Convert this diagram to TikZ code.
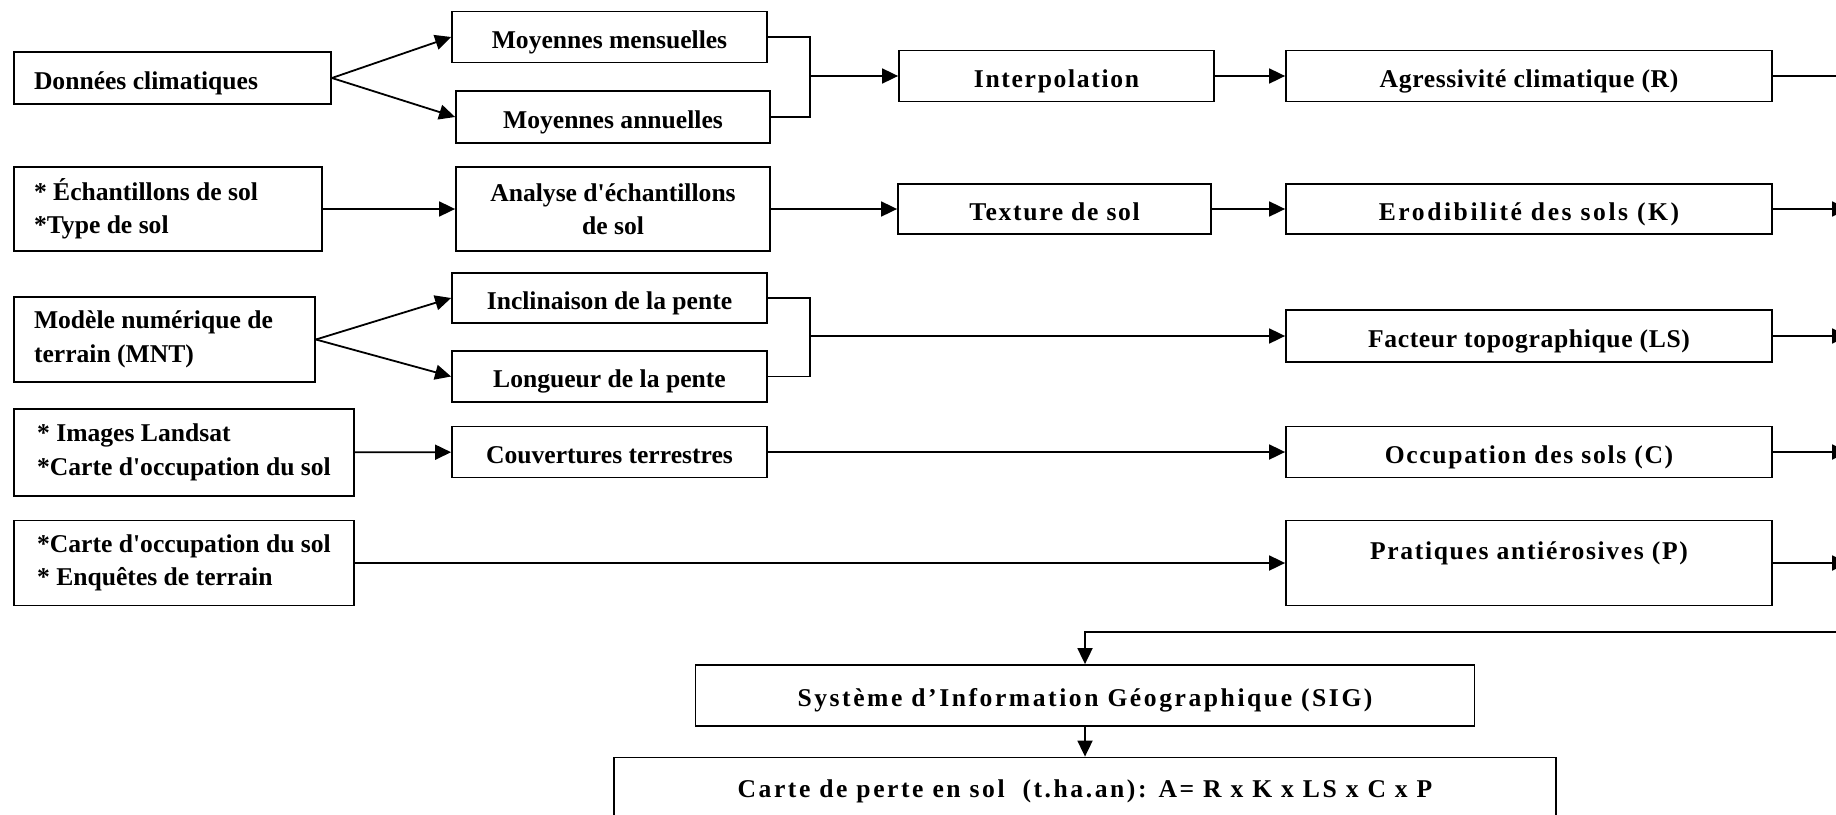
\documentclass[tikz,border=0pt]{standalone}
\usepackage{fontspec}
\setmainfont{Liberation Serif}[Ligatures=TeXOff]
\newfontfamily\peuespacee{Liberation Serif}[LetterSpace=2.5,Ligatures=TeXOff]
\newfontfamily\espacee{Liberation Serif}[LetterSpace=6.5,Ligatures=TeXOff]
\newfontfamily\tresespacee{Liberation Serif}[LetterSpace=10,Ligatures=TeXOff]
\usetikzlibrary{arrows.meta}
\tikzset{
  bloc/.style={rectangle,draw,line width=0.9pt,align=center,inner sep=0pt,
    font=\bfseries\fontsize{12.8}{16.7}\selectfont},
  ligne/.style={bloc,text height=11pt,text depth=0pt},
  donnee/.style={bloc,align=flush left,inner xsep=10pt},
  ecartA/.style={font=\peuespacee\bfseries\fontsize{12.8}{16.7}\selectfont},
  ecartB/.style={font=\espacee\bfseries\fontsize{12.8}{16.7}\selectfont},
  ecartC/.style={font=\tresespacee\bfseries\fontsize{12.8}{16.7}\selectfont},
  fleche/.style={-{Triangle[length=8pt,width=7.5pt]},line width=0.9pt}}

\begin{document}
\begin{tikzpicture}[x=0.5pt,y=-0.5pt]
  \useasboundingbox (0,0) rectangle (1836,814);
  % sources
  \node[donnee,text height=11pt,text depth=0pt,text width=138.5pt,minimum height=26pt] (clim) at (172.5,78) {Données climatiques};
  \node[donnee,text width=134pt,minimum height=42pt] (ech) at (168,209) {* Échantillons de sol\\{}*Type de sol};
  \node[donnee,text width=130.5pt,minimum height=42.5pt] (mnt) at (164.5,339.5) {Modèle numérique de\\terrain (MNT)};
  \node[donnee,minimum width=170pt,minimum height=43.5pt] (land) at (184,452.5) {* Images Landsat\\{}*Carte d'occupation du sol};
  \node[donnee,minimum width=170pt,minimum height=42.5pt] (enq) at (184,563) {*Carte d'occupation du sol\\{}* Enquêtes de terrain};
  % traitements
  \node[ligne,minimum width=157.5pt,minimum height=25.5pt] (mens) at (609.5,37) {Moyennes mensuelles};
  \node[ligne,minimum width=157pt,minimum height=26pt] (ann) at (613,117) {Moyennes annuelles};
  \node[bloc,minimum width=157pt,minimum height=42pt] (ana) at (613,209) {Analyse d'échantillons\\de sol};
  \node[ligne,minimum width=157.5pt,minimum height=25pt] (incl) at (609.5,298) {Inclinaison de la pente};
  \node[ligne,minimum width=157.5pt,minimum height=25.5pt] (lon) at (609.5,376.5) {Longueur de la pente};
  \node[ligne,minimum width=157.5pt,minimum height=25.5pt] (couv) at (609.5,452) {Couvertures terrestres};
  \node[ligne,ecartB,minimum width=157.5pt,minimum height=25.5pt] (interp) at (1056.5,76) {Interpolation};
  \node[ligne,ecartB,minimum width=156.5pt,minimum height=25pt] (tex) at (1054.5,209) {Texture de sol};
  % facteurs
  \node[ligne,ecartA,minimum width=243pt,minimum height=25.5pt] (agr) at (1529,76) {Agressivité climatique (R)};
  \node[ligne,ecartC,minimum width=243pt,minimum height=25pt] (ero) at (1529,209) {Erodibilité des sols (K)};
  \node[ligne,ecartA,minimum width=243pt,minimum height=26pt] (fac) at (1529,336) {Facteur topographique (LS)};
  \node[ligne,ecartB,minimum width=243pt,minimum height=25.5pt] (occ) at (1529,452) {Occupation des sols (C)};
  \node[bloc,ecartB,minimum width=243pt,minimum height=42.5pt,text height=9pt,text depth=12.5pt] (prat) at (1529,563) {Pratiques antiérosives (P)};
  % synthese
  \node[ligne,ecartC,minimum width=389.5pt,minimum height=30.5pt] (sig) at (1085,695.5) {Système d’Information Géographique (SIG)};
  \node[ligne,ecartC,minimum width=471pt,minimum height=29pt] (carte) at (1085,786.5) {Carte de perte en sol\ \ (t.ha.an): A= R x K x LS x C x P};
  \coordinate (j1) at (810,76);
  \coordinate (j3) at (810,336);
  \coordinate (sortieR) at (1858,76);
  \coordinate (sortieK) at (1848,209);
  \coordinate (sortieLS) at (1848,336);
  \coordinate (sortieC) at (1848,452);
  \coordinate (sortieP) at (1848,563);
  \coordinate (retour) at (1846,632);
  \draw[fleche] (clim.east)--(mens.west);
  \draw[fleche] (clim.east)--(ann.west);
  \draw[line width=0.9pt] (mens.east) -| (j1) |- (ann.east);
  \draw[fleche] (j1)--(interp);
  \draw[fleche] (interp)--(agr);
  \draw[fleche] (agr)--(sortieR);
  \draw[fleche] (ech)--(ana);
  \draw[fleche] (ana)--(tex);
  \draw[fleche] (tex)--(ero);
  \draw[fleche] (ero)--(sortieK);
  \draw[fleche] (mnt.east)--(incl.west);
  \draw[fleche] (mnt.east)--(lon.west);
  \draw[line width=0.9pt] (incl.east) -| (j3) |- (lon.east);
  \draw[fleche] (j3)--(fac);
  \draw[fleche] (fac)--(sortieLS);
  \draw[fleche] (land)--(couv);
  \draw[fleche] (couv)--(occ);
  \draw[fleche] (occ)--(sortieC);
  \draw[fleche] (enq)--(prat);
  \draw[fleche] (prat)--(sortieP);
  \draw[fleche] (retour) -| (sig.north);
  \draw[fleche] (sig)--(carte);
\end{tikzpicture}
\end{document}
